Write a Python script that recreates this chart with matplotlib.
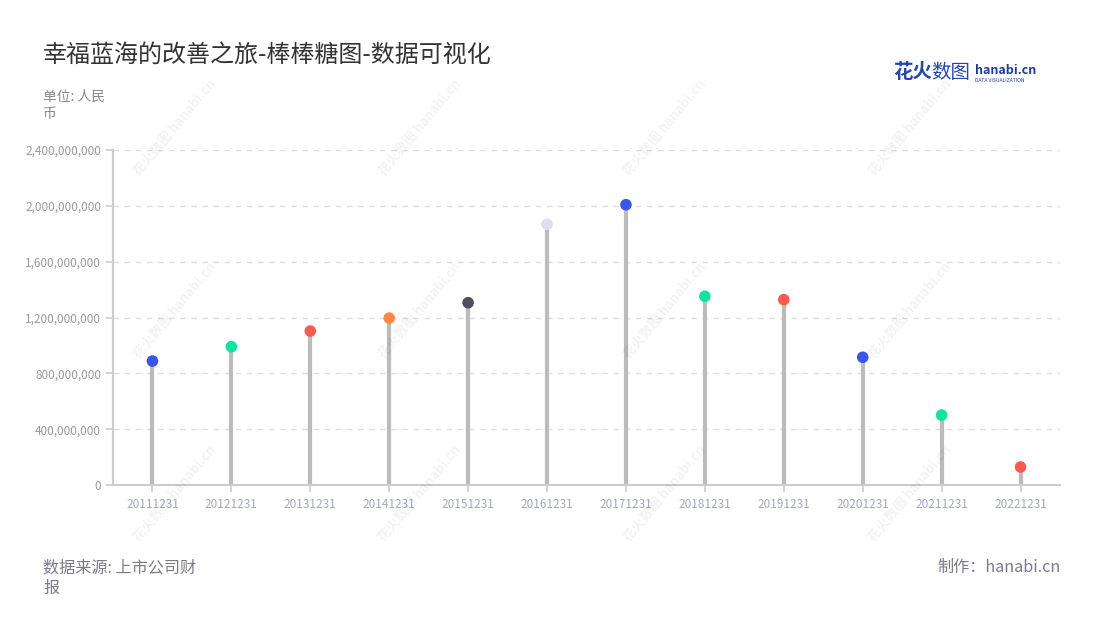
import numpy as np
import matplotlib
matplotlib.use("Agg")
import matplotlib.pyplot as plt
from matplotlib.ticker import FuncFormatter, MultipleLocator

plt.rcParams['font.family'] = ['Noto Sans CJK SC', 'DejaVu Sans']

# ——— data ———
dates = ['20111231', '20121231', '20131231', '20141231', '20151231', '20161231',
         '20171231', '20181231', '20191231', '20201231', '20211231', '20221231']
values = [888e6, 991e6, 1103e6, 1196e6, 1306e6, 1868e6,
          2008e6, 1352e6, 1328e6, 915e6, 501e6, 129e6]
dot_colors = ['#3a56e8', '#0fe3a0', '#ff5a52', '#ff8a45', '#50505c', '#dde0ea',
              '#3a56e8', '#0fe3a0', '#ff5a52', '#3a56e8', '#0fe3a0', '#ff5a52']

title = '幸福蓝海的改善之旅-棒棒糖图-数据可视化'
unit_txt = '单位: 人民\n币'
source_txt = '数据来源: 上市公司财\n报'
credit_txt = '制作：hanabi.cn'

W, H = 1100, 620
fig = plt.figure(figsize=(W/100, H/100), dpi=100)
fig.patch.set_facecolor('white')

# ——— faint watermark tiles ———
for wy in [127, 310, 493]:
    for wx in [175, 420, 665, 910]:
        fig.text(wx/W, 1 - wy/H, '花火数图 hanabi.cn', fontsize=9.5, color='#000000',
                 alpha=0.05, rotation=50, ha='center', va='center',
                 fontweight='bold', zorder=0)

ax = fig.add_axes([113/W, 1 - 485/H, (1060-113)/W, (485-150)/H])
ax.set_facecolor('none')
x = np.arange(len(dates))

ax.vlines(x, 0, values, color='#bbbbbb', lw=3, zorder=2)
ax.scatter(x, values, s=70, c=dot_colors, zorder=3, edgecolors='none')

ax.set_xlim(-0.5, len(dates) - 0.5)
ax.set_ylim(0, 2.4e9)
ax.yaxis.set_major_locator(MultipleLocator(4e8))
ax.yaxis.set_major_formatter(FuncFormatter(lambda v, p: f'{int(v):,}'))
ax.set_xticks(x)
ax.set_xticklabels(dates)

ax.grid(axis='y', ls=(0, (4, 4)), color='#dddddd', lw=1, zorder=0)
for s in ['top', 'right']:
    ax.spines[s].set_visible(False)
for s in ['left', 'bottom']:
    ax.spines[s].set_color('#cccccc')
    ax.spines[s].set_linewidth(1.5)
ax.tick_params(axis='y', colors='#cccccc', labelcolor='#9a9a9a', labelsize=8.5,
               length=5, width=1.2)
ax.tick_params(axis='x', colors='#cccccc', labelcolor='#a3a7bb', labelsize=8.5,
               length=5, width=1.2, pad=4)

# ——— texts ———
fig.text(43/W, 1 - 55/H, title, fontsize=17.3, color='#333333', va='center')
fig.text(43/W, 1 - 105/H, unit_txt, fontsize=9.9, color='#888888', va='center',
         linespacing=1.3)
fig.text(43/W, 1 - 578/H, source_txt, fontsize=11.6, color='#7a7a8a', va='center',
         linespacing=1.25)
fig.text(1061/W, 1 - 567/H, credit_txt, fontsize=11.6, color='#7a7a8a', va='center',
         ha='right')

# logo
fig.text(893/W, 1 - 73/H, '花火', fontsize=14, color='#2447a8', va='center',
         fontweight='bold')
fig.text(931/W, 1 - 73/H, '数图', fontsize=14, color='#2447a8', va='center')
fig.text(975/W, 1 - 70/H, 'hanabi.cn', fontsize=9, color='#1d3c96', va='center',
         fontweight='bold')
fig.text(975/W, 1 - 80/H, 'DATA VISUALIZATION', fontsize=3.6, color='#1d3c96',
         va='center')

fig.savefig('out.png', dpi=100)
